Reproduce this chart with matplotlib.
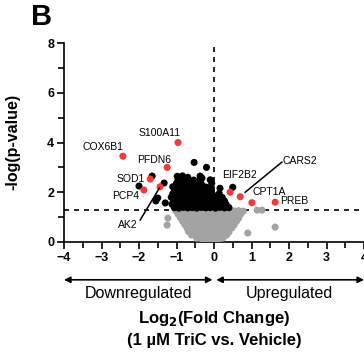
import matplotlib.pyplot as plt
import numpy as np

plt.rcParams['font.family'] = ['Liberation Sans', 'DejaVu Sans']

# not significant (grey)
ns_points = [
    (-1.02, 1.25), (-0.90, 1.27), (-0.78, 1.24), (-0.66, 1.26), (-0.54, 1.27), (-0.42, 1.25),
    (-0.30, 1.26), (-0.18, 1.24), (-0.06, 1.27), (0.06, 1.25), (0.18, 1.26), (0.30, 1.24),
    (0.42, 1.27), (0.54, 1.25), (0.66, 1.26), (0.78, 1.24),
    (-0.96, 1.12), (-0.84, 1.10), (-0.72, 1.13), (-0.60, 1.11), (-0.48, 1.12), (-0.36, 1.10),
    (-0.24, 1.13), (-0.12, 1.11), (0.00, 1.12), (0.12, 1.10), (0.24, 1.13), (0.36, 1.11),
    (0.48, 1.12), (0.60, 1.10), (0.72, 1.13),
    (-0.90, 0.98), (-0.78, 0.96), (-0.66, 0.99), (-0.54, 0.97), (-0.42, 0.98), (-0.30, 0.96),
    (-0.18, 0.99), (-0.06, 0.97), (0.06, 0.98), (0.18, 0.96), (0.30, 0.99), (0.42, 0.97),
    (0.54, 0.98), (0.66, 0.96),
    (-0.84, 0.84), (-0.72, 0.82), (-0.60, 0.85), (-0.48, 0.83), (-0.36, 0.84), (-0.24, 0.82),
    (-0.12, 0.85), (0.00, 0.83), (0.12, 0.84), (0.24, 0.82), (0.36, 0.85), (0.48, 0.83), (0.60, 0.84),
    (-0.78, 0.70), (-0.66, 0.68), (-0.54, 0.71), (-0.42, 0.69), (-0.30, 0.70), (-0.18, 0.68),
    (-0.06, 0.71), (0.06, 0.69), (0.18, 0.70), (0.30, 0.68), (0.42, 0.71), (0.54, 0.69),
    (-0.72, 0.56), (-0.60, 0.54), (-0.48, 0.57), (-0.36, 0.55), (-0.24, 0.56), (-0.12, 0.54),
    (0.00, 0.57), (0.12, 0.55), (0.24, 0.56), (0.36, 0.54), (0.48, 0.57),
    (-0.68, 0.42), (-0.56, 0.40), (-0.44, 0.43), (-0.32, 0.41), (-0.20, 0.42), (-0.08, 0.40),
    (0.04, 0.43), (0.16, 0.41), (0.28, 0.42), (0.40, 0.40),
    (-0.60, 0.28), (-0.48, 0.26), (-0.36, 0.29), (-0.24, 0.27), (-0.12, 0.28), (0.00, 0.26),
    (0.12, 0.29), (0.24, 0.27), (0.34, 0.28),
    (-0.46, 0.15), (-0.34, 0.13), (-0.22, 0.16), (-0.10, 0.14), (0.02, 0.15), (0.14, 0.13), (0.24, 0.16),
    (-0.26, 0.05), (-0.14, 0.04), (-0.02, 0.06), (0.10, 0.05),
    (-1.23, 0.96), (-1.25, 0.68), (0.90, 0.36), (1.63, 0.60), (1.15, 1.28), (1.28, 1.28),
]

# significant, not labelled (black)
sig_points = [
    (-1.06, 1.38), (-0.94, 1.36), (-0.82, 1.39), (-0.70, 1.37), (-0.58, 1.38), (-0.46, 1.36),
    (-0.34, 1.39), (-0.22, 1.37), (-0.10, 1.38), (0.04, 1.36), (0.16, 1.39), (0.28, 1.37), (0.40, 1.38),
    (-1.12, 1.52), (-1.00, 1.50), (-0.88, 1.53), (-0.76, 1.51), (-0.64, 1.52), (-0.52, 1.50),
    (-0.40, 1.53), (-0.28, 1.51), (-0.16, 1.52), (-0.04, 1.50), (0.08, 1.53), (0.20, 1.51), (0.32, 1.52),
    (-1.08, 1.66), (-0.96, 1.64), (-0.84, 1.67), (-0.72, 1.65), (-0.60, 1.66), (-0.48, 1.64),
    (-0.36, 1.67), (-0.24, 1.65), (-0.12, 1.66), (0.04, 1.64), (0.16, 1.67), (0.28, 1.65),
    (-1.14, 1.80), (-1.02, 1.78), (-0.90, 1.81), (-0.78, 1.79), (-0.66, 1.80), (-0.54, 1.78),
    (-0.42, 1.81), (-0.30, 1.79), (-0.18, 1.80), (-0.06, 1.78), (0.10, 1.81), (0.22, 1.79),
    (-1.10, 1.94), (-0.98, 1.92), (-0.86, 1.95), (-0.74, 1.93), (-0.62, 1.94), (-0.50, 1.92),
    (-0.38, 1.95), (-0.26, 1.93), (-0.14, 1.94), (-0.04, 1.92), (0.14, 1.95),
    (-1.04, 2.08), (-0.92, 2.06), (-0.80, 2.09), (-0.68, 2.07), (-0.56, 2.08), (-0.44, 2.06),
    (-0.32, 2.09), (-0.20, 2.07), (-0.08, 2.08), (0.16, 2.16),
    (-1.10, 2.22), (-0.98, 2.20), (-0.86, 2.23), (-0.74, 2.21), (-0.62, 2.22), (-0.50, 2.20),
    (-0.36, 2.23), (-0.22, 2.21), (-0.08, 2.22),
    (-1.00, 2.36), (-0.88, 2.34), (-0.76, 2.37), (-0.62, 2.35), (-0.48, 2.36), (-0.34, 2.34), (-0.06, 2.36),
    (-0.96, 2.50), (-0.82, 2.48), (-0.68, 2.51), (-0.54, 2.49), (-0.36, 2.50),
    (-0.98, 2.64), (-0.84, 2.66), (-0.70, 2.60),
    (-0.53, 3.20), (-0.20, 3.00), (-1.65, 2.65), (-2.00, 2.25), (-1.55, 1.65), (-1.33, 2.37),
    (-0.32, 2.57), (-1.50, 1.77), (-1.30, 1.57), (0.50, 2.20), (-0.10, 2.50), (-0.37, 2.65),
]

# labelled hits (red)
genes = ['S100A11', 'COX6B1', 'PFDN6', 'SOD1', 'PCP4', 'AK2', 'EIF2B2', 'CARS2', 'CPT1A', 'PREB']
hit_fc = [-0.96, -2.43, -1.25, -1.70, -1.87, -1.44, 0.43, 0.70, 1.01, 1.63]
hit_logp = [4.00, 3.45, 3.00, 2.53, 2.09, 2.22, 2.00, 1.82, 1.58, 1.60]
label_xy = [(-1.44, 4.38), (-2.97, 3.80), (-1.59, 3.31), (-2.23, 2.55), (-2.35, 1.83),
            (-2.29, 0.68), (0.68, 2.69), (2.29, 3.27), (1.47, 1.99), (2.13, 1.63)]

p_cut = 1.3

fig = plt.figure(figsize=(3.64, 3.54), dpi=100)
ax = fig.add_axes([64 / 364, 0.3164, 300 / 364, 0.5621])

ns = np.array(ns_points)
sig = np.array(sig_points)
ax.scatter(ns[:, 0], ns[:, 1], s=26, color='#a3a3a3', edgecolors='none', zorder=3)
ax.scatter(sig[:, 0], sig[:, 1], s=26, color='black', edgecolors='none', zorder=4)
ax.scatter(hit_fc, hit_logp, s=26, color='#f23a3a', edgecolors='none', zorder=5)

ax.axhline(p_cut, color='black', lw=1.2, dashes=(3, 3), zorder=2)
ax.axvline(0, color='black', lw=1.2, dashes=(3, 3), zorder=2)

for g, (tx, ty) in zip(genes, label_xy):
    ax.text(tx, ty, g, fontsize=7.5, ha='center', va='center', zorder=6)

# leader lines
ax.plot([-1.97, -1.46], [0.88, 2.16], color='black', lw=1.1, zorder=6)
ax.plot([1.81, 0.83], [3.21, 2.0], color='black', lw=1.1, zorder=6)

ax.set_xlim(-4, 4)
ax.set_ylim(0, 8)
ax.set_xticks(range(-4, 5))
ax.set_xticks(np.arange(-4, 4.01, 0.5), minor=True)
ax.set_yticks([0, 2, 4, 6, 8])
ax.set_yticks([1, 3, 5, 7], minor=True)
for sp in ['top', 'right']:
    ax.spines[sp].set_visible(False)
for sp in ['left', 'bottom']:
    ax.spines[sp].set_linewidth(1.2)
ax.tick_params(which='major', length=5, width=1.2, pad=2, labelsize=9)
ax.tick_params(which='minor', length=4, width=1.2)
for lab in ax.get_xticklabels() + ax.get_yticklabels():
    lab.set_fontweight('bold')

# direction arrows under the axis
tr = ax.get_xaxis_transform()
ax.annotate('', xy=(-4, -0.19), xytext=(-0.04, -0.19), xycoords=tr, textcoords=tr,
            arrowprops=dict(arrowstyle='<|-|>', lw=1.2, color='black',
                            mutation_scale=9, shrinkA=0, shrinkB=0), annotation_clip=False)
ax.annotate('', xy=(0.06, -0.19), xytext=(4.0, -0.19), xycoords=tr, textcoords=tr,
            arrowprops=dict(arrowstyle='<|-|>', lw=1.2, color='black',
                            mutation_scale=9, shrinkA=0, shrinkB=0), annotation_clip=False)
ax.text(-2, -0.258, 'Downregulated', transform=tr, ha='center', va='center', fontsize=11.5)
ax.text(2, -0.258, 'Upregulated', transform=tr, ha='center', va='center', fontsize=11.5)

fig.text(214 / 364, 1 - 318 / 354, r'Log$_\mathbf{2}$(Fold Change)', ha='center', va='center',
         fontsize=12, fontweight='bold')
fig.text(214 / 364, 1 - 340 / 354, '(1 µM TriC vs. Vehicle)', ha='center', va='center',
         fontsize=12, fontweight='bold')
fig.text(13 / 364, 1 - 142 / 354, '-log(p-value)', rotation=90, ha='center', va='center',
         fontsize=11.5, fontweight='bold')
fig.text(42 / 364, 1 - 17 / 354, 'B', ha='center', va='center', fontsize=21, fontweight='bold')

fig.savefig('out.png', dpi=100)
